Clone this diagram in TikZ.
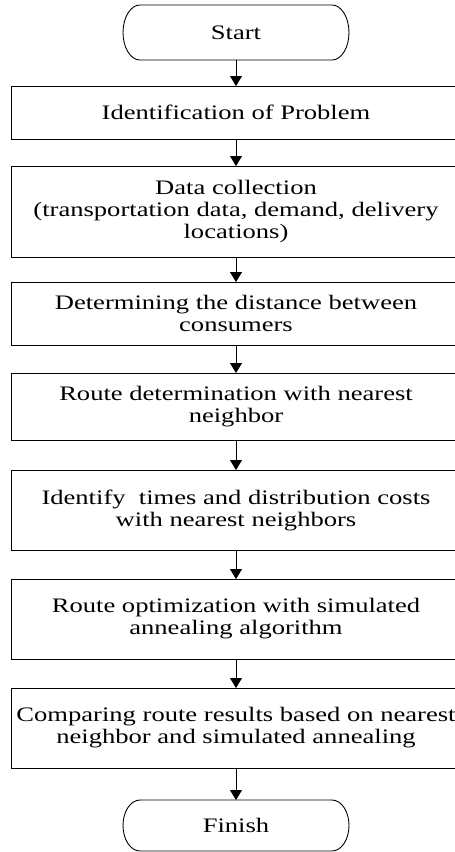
\documentclass[tikz,border=0pt]{standalone}
\usepackage{fontspec}
\setmainfont{Liberation Serif}[FakeStretch=1.29]
\usetikzlibrary{arrows.meta}
\tikzset{
  box/.style={draw, line width=0.9pt, rectangle, minimum width=450pt, inner sep=0pt, outer sep=0pt, align=center, font=\fontsize{20.6}{22}\selectfont},
  term/.style={rectangle, minimum width=226pt, inner sep=0pt, outer sep=0pt, font=\fontsize{20.6}{22}\selectfont},
  arr/.style={line width=0.9pt, -{Triangle[width=12pt,length=10pt]}},
  edge/.style={line width=0.9pt}
}
\newcommand{\termpath}[1]{%
  \draw[edge] ([xshift=17pt]#1.north west) -- ([xshift=-17pt]#1.north east)
    arc[start angle=90,end angle=-90,x radius=17pt,y radius=0.5*\termh]
    -- ([xshift=17pt]#1.south west)
    arc[start angle=270,end angle=90,x radius=17pt,y radius=0.5*\termh] -- cycle;}
\begin{document}
\begin{tikzpicture}[x=1pt,y=1pt]
\useasboundingbox (0,0) rectangle (455,-852);
\clip (0,0) rectangle (455,-852);
\fill[white] (0,0) rectangle (455,-852);
\node[term, minimum height=55pt] (st) at (236,-32.5) {Start};
\def\termh{55pt}
\termpath{st}
\node[box, minimum height=53pt] (b1) at (236,-112.5) {Identification of Problem};
\node[box, minimum height=91pt] (b2) at (236,-211.5) {Data collection\\(transportation data, demand, delivery\\locations)};
\node[box, minimum height=63pt] (b3) at (236,-313.5) {Determining the distance between\\consumers};
\node[box, minimum height=67pt] (b4) at (236,-406.5) {Route determination with nearest\\neighbor};
\node[box, minimum height=80pt] (b5) at (236,-510) {Identify\ \ times and distribution costs\\with nearest neighbors};
\node[box, minimum height=80pt] (b6) at (236,-619) {Route optimization with simulated\\annealing algorithm};
\node[box, minimum height=80pt] (b7) at (236,-728) {Comparing route results based on nearest\\neighbor and simulated annealing};
\node[term, minimum height=51pt] (fi) at (236,-825.5) {Finish};
\def\termh{51pt}
\termpath{fi}
\draw[arr] (st.south) -- (b1.north);
\draw[arr] (b1.south) -- (b2.north);
\draw[arr] (b2.south) -- (b3.north);
\draw[arr] (b3.south) -- (b4.north);
\draw[arr] (b4.south) -- (b5.north);
\draw[arr] (b5.south) -- (b6.north);
\draw[arr] (b6.south) -- (b7.north);
\draw[arr] (b7.south) -- (fi.north);
\end{tikzpicture}
\end{document}
